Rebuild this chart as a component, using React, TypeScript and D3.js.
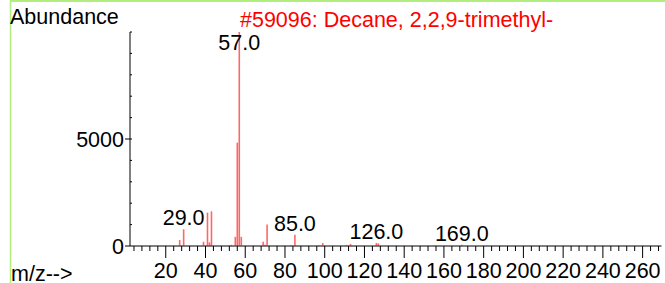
import React, { useRef, useEffect } from "react";
import { select, scaleLinear, range } from "d3";

const WIDTH = 665;
const HEIGHT = 283;
const FONT = "'Liberation Sans', Arial, sans-serif";
const COLOR_PEAK = "#ff0000";
const COLOR_AXIS = "#000000";
const COLOR_FRAME = "#b2ee7e";

const TITLE = "#59096: Decane, 2,2,9-trimethyl-";
const MZ = [27, 29, 39, 41, 42, 43, 53, 55, 56, 57, 58, 69, 70, 71, 83, 85, 97, 99, 111, 113, 126, 127, 169];
const ABUNDANCE = [280, 780, 200, 1560, 170, 1620, 50, 430, 4830, 9999, 430, 200, 60, 1010, 40, 520, 40, 140, 50, 90, 140, 120, 60];
const LABELED = [29, 57, 85, 126, 169];
const X_TICKS = [20, 40, 60, 80, 100, 120, 140, 160, 180, 200, 220, 240, 260];
const Y_TICKS = [0, 5000];

export default function App() {
  const node = useRef<SVGSVGElement>(null);

  useEffect(() => {
    const svg = select(node.current);
    svg.selectAll("*").remove();

    const x = scaleLinear().domain([2, 269.5]).range([130, 661.5]);
    const y = scaleLinear().domain([0, 10000]).range([246, 32]);

    // frame
    svg.append("line").attr("x1", 10).attr("x2", WIDTH).attr("y1", 1).attr("y2", 1)
      .attr("stroke", COLOR_FRAME).attr("stroke-width", 2);
    svg.append("line").attr("x1", 10.5).attr("x2", 10.5).attr("y1", 0).attr("y2", HEIGHT)
      .attr("stroke", COLOR_FRAME).attr("stroke-width", 1.5);

    const text = (tx, ty, s, anchor = "start", color = COLOR_AXIS) =>
      svg.append("text").attr("x", tx).attr("y", ty).attr("text-anchor", anchor)
        .attr("fill", color).attr("font-family", FONT).attr("font-size", 21.5).text(s);

    text(10, 24, "Abundance");
    text(240, 27, TITLE, "start", COLOR_PEAK);
    text(11, 281, "m/z-->");

    // y axis
    const [x0] = x.range();
    svg.append("line").attr("x1", x0).attr("x2", x0).attr("y1", y(10000)).attr("y2", y(0))
      .attr("stroke", COLOR_AXIS);
    range(1000, 10001, 1000).forEach((v) => {
      svg.append("line").attr("x1", x0).attr("x2", x0 + 2).attr("y1", y(v)).attr("y2", y(v))
        .attr("stroke", COLOR_AXIS);
    });
    Y_TICKS.forEach((v) => {
      svg.append("line").attr("x1", x0 - 5).attr("x2", x0).attr("y1", y(v)).attr("y2", y(v))
        .attr("stroke", COLOR_AXIS);
      text(124, y(v) + 7.5, String(v), "end");
    });

    // x axis
    svg.append("line").attr("x1", x0).attr("x2", x.range()[1]).attr("y1", y(0)).attr("y2", y(0))
      .attr("stroke", COLOR_AXIS);
    range(4, 269, 4).forEach((v) => {
      const major = v % 20 === 0;
      svg.append("line").attr("x1", x(v)).attr("x2", x(v))
        .attr("y1", y(0)).attr("y2", y(0) + (major ? 12 : 5))
        .attr("stroke", COLOR_AXIS);
    });
    X_TICKS.forEach((v) => text(x(v), 278, String(v), "middle"));

    // peaks
    svg.append("g").selectAll("line").data(MZ).enter().append("line")
      .attr("x1", (d) => x(d)).attr("x2", (d) => x(d))
      .attr("y1", y(0)).attr("y2", (d, i) => y(ABUNDANCE[i]))
      .attr("stroke", COLOR_PEAK).attr("stroke-opacity", 0.6).attr("stroke-width", 1.6);

    LABELED.forEach((m) => {
      const v = ABUNDANCE[MZ.indexOf(m)];
      text(x(m), Math.max(y(v) - 4, 50), m.toFixed(1), "middle");
    });
  }, []);

  return (
    <svg ref={node} width={WIDTH} height={HEIGHT}
      style={{ position: "absolute", left: 0, top: 0, background: "#fff" }} />
  );
}
